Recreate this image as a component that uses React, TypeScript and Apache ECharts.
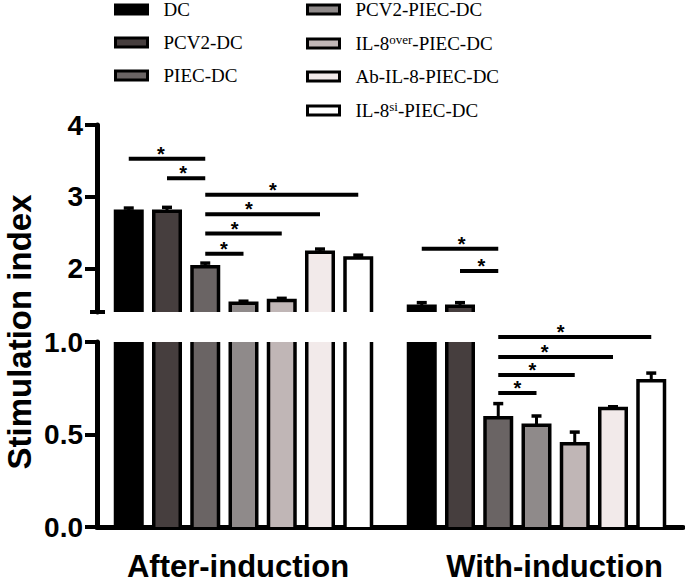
import React, { useEffect, useRef } from 'react';
import * as echarts from 'echarts';

// ---------- data ----------
const CATEGORIES = ['After-induction', 'With-induction'];
const SERIES_NAMES = ['DC', 'PCV2-DC', 'PIEC-DC', 'PCV2-PIEC-DC', 'IL-8over-PIEC-DC', 'Ab-IL-8-PIEC-DC', 'IL-8si-PIEC-DC'];
const SERIES_COLORS = ['#000000', '#463e3e', '#6a6464', '#8f8a8a', '#c0b6b6', '#f2eaea', '#ffffff'];

// mean stimulation index: [After-induction, With-induction]
const MEAN_DC = [2.8, 1.48];
const MEAN_PCV2_DC = [2.8, 1.48];
const MEAN_PIEC_DC = [2.03, 0.59];
const MEAN_PCV2_PIEC_DC = [1.52, 0.55];
const MEAN_IL8_OVER = [1.56, 0.45];
const MEAN_AB_IL8 = [2.23, 0.64];
const MEAN_IL8_SI = [2.15, 0.79];

// error (upper whisker)
const ERR_DC = [0.045, 0.05];
const ERR_PCV2_DC = [0.055, 0.05];
const ERR_PIEC_DC = [0.05, 0.077];
const ERR_PCV2_PIEC_DC = [0.03, 0.05];
const ERR_IL8_OVER = [0.03, 0.063];
const ERR_AB_IL8 = [0.045, 0.01];
const ERR_IL8_SI = [0.04, 0.042];

const MEANS = [MEAN_DC, MEAN_PCV2_DC, MEAN_PIEC_DC, MEAN_PCV2_PIEC_DC, MEAN_IL8_OVER, MEAN_AB_IL8, MEAN_IL8_SI];
const ERRS = [ERR_DC, ERR_PCV2_DC, ERR_PIEC_DC, ERR_PCV2_PIEC_DC, ERR_IL8_OVER, ERR_AB_IL8, ERR_IL8_SI];

// broken y axis segments
const UPPER_MIN = 1.4;
const UPPER_MAX = 4;
const UPPER_TICKS = [2, 3, 4];
const LOWER_MIN = 0;
const LOWER_MAX = 1;
const LOWER_INTERVAL = 0.5;

// significance brackets: [category, fromBar, toBar, y value, star position (bar units)]
const SIG_UPPER = [
  [0, 0, 2, 3.53, 0.84],
  [0, 1, 2, 3.26, 1.42],
  [0, 2, 6, 3.03, 3.77],
  [0, 2, 5, 2.76, 3.14],
  [0, 2, 4, 2.49, 2.77],
  [0, 2, 3, 2.21, 2.49],
  [1, 0, 2, 2.28, 1.04],
  [1, 1, 2, 1.97, 1.56],
];
const SIG_LOWER = [
  [1, 2, 6, 1.027, 3.63],
  [1, 2, 5, 0.919, 3.21],
  [1, 2, 4, 0.822, 2.89],
  [1, 2, 3, 0.724, 2.5],
];

// ---------- styles ----------
const SANS = '"Liberation Sans", Arial, sans-serif';
const SERIF = '"Liberation Serif", "Times New Roman", serif';
const PITCH_FRAC = 38.25 / 293;
const BAR_FRAC = 26.5 / 293;
const N = SERIES_NAMES.length;
const X_LABEL_PADDING = [[0, 11, 0, 0], [0, 0, 0, 36]];

const LEGEND_LABELS: Record<string, string> = {
  'IL-8over-PIEC-DC': '{n|IL-8}{s|over}{n|-PIEC-DC}',
  'IL-8si-PIEC-DC': '{n|IL-8}{s|si}{n|-PIEC-DC}',
};

function barX(api: any, cat: number, k: number) {
  const band = api.size([1, 0])[0];
  return api.coord([cat, 0])[0] + (k - (N - 1) / 2) * band * PITCH_FRAC;
}

function barRenderer(k: number, color: string) {
  return (params: any, api: any) => {
    const cat = api.value(0);
    const mean = api.value(1);
    const err = api.value(2);
    const cs = params.coordSys;
    const band = api.size([1, 0])[0];
    const w = band * BAR_FRAC;
    const cx = barX(api, cat, k);
    const yTop = api.coord([cat, mean])[1];
    const yBase = api.coord([cat, 0])[1];
    const top = cs.y;
    const bottom = cs.y + cs.height;
    const y0 = Math.max(yTop, top);
    const y1 = Math.min(yBase, bottom);
    const children: any[] = [];
    if (y0 < y1) {
      const x0 = cx - w / 2;
      const x1 = cx + w / 2;
      children.push({ type: 'rect', shape: { x: x0, y: y0, width: w, height: y1 - y0 }, style: { fill: color } });
      const stroke = { stroke: '#000', lineWidth: 3.5, fill: null };
      if (yTop >= top) {
        children.push({ type: 'polyline', shape: { points: [[x0, y1], [x0, yTop], [x1, yTop], [x1, y1]] }, style: stroke });
        const yErr = api.coord([cat, mean + err])[1];
        children.push({ type: 'line', shape: { x1: cx, y1: yTop, x2: cx, y2: yErr }, style: { stroke: '#000', lineWidth: 3 } });
        children.push({ type: 'line', shape: { x1: cx - 5, y1: yErr, x2: cx + 5, y2: yErr }, style: { stroke: '#000', lineWidth: 3.5 } });
      } else {
        children.push({ type: 'line', shape: { x1: x0, y1: y0, x2: x0, y2: y1 }, style: stroke });
        children.push({ type: 'line', shape: { x1: x1, y1: y0, x2: x1, y2: y1 }, style: stroke });
      }
    }
    return { type: 'group', children };
  };
}

function sigRenderer(params: any, api: any) {
  const cat = api.value(0);
  const from = api.value(1);
  const to = api.value(2);
  const yv = api.value(3);
  const starPos = api.value(4);
  const y = api.coord([cat, yv])[1];
  const xa = barX(api, cat, from);
  const xb = barX(api, cat, to);
  const xs = barX(api, cat, 0) + (barX(api, cat, 1) - barX(api, cat, 0)) * starPos;
  return {
    type: 'group',
    children: [
      { type: 'line', shape: { x1: xa, y1: y, x2: xb, y2: y }, style: { stroke: '#000', lineWidth: 4 } },
      {
        type: 'text',
        x: xs,
        y: y - 5,
        style: {
          text: '*',
          font: `bold 20px ${SANS}`,
          fill: '#000',
          align: 'center',
          verticalAlign: 'middle',
          textAlign: 'center',
          textVerticalAlign: 'middle',
        },
      },
    ],
  };
}

function capRenderer(params: any, api: any) {
  const cs = params.coordSys;
  const y = api.coord([0, api.value(1)])[1];
  return { type: 'line', shape: { x1: cs.x - 7, y1: y, x2: cs.x + 8, y2: y }, style: { stroke: '#000', lineWidth: 4 } };
}

function buildOption() {
  const gridLeft = 97;
  const gridWidth = 586;
  const axisLineStyle = { color: '#000', width: 5 };
  const tickStyle = { color: '#000', width: 4 };
  const yLabel = { color: '#000', fontFamily: SANS, fontWeight: 'bold', fontSize: 28, margin: 14 };

  const series: any[] = [];
  [0, 1].forEach((g) => {
    SERIES_NAMES.forEach((name, k) => {
      series.push({
        type: 'custom',
        name,
        xAxisIndex: g,
        yAxisIndex: g,
        itemStyle: { color: SERIES_COLORS[k], borderColor: '#000' },
        encode: { x: 0, y: 1 },
        data: CATEGORIES.map((_, c) => [c, MEANS[k][c], ERRS[k][c]]),
        renderItem: barRenderer(k, SERIES_COLORS[k]),
        silent: true,
        z: 2,
      });
    });
  });
  series.push({
    type: 'custom',
    xAxisIndex: 0,
    yAxisIndex: 0,
    encode: { x: 0, y: 3 },
    data: SIG_UPPER,
    renderItem: sigRenderer,
    silent: true,
    z: 3,
  });
  series.push({
    type: 'custom',
    xAxisIndex: 1,
    yAxisIndex: 1,
    encode: { x: 0, y: 3 },
    data: SIG_LOWER,
    renderItem: sigRenderer,
    silent: true,
    z: 3,
  });
  series.push({
    type: 'custom',
    xAxisIndex: 0,
    yAxisIndex: 0,
    encode: { x: 0, y: 1 },
    data: [[0, UPPER_MIN]],
    renderItem: capRenderer,
    silent: true,
    z: 4,
  });

  const legendCommon = {
    orient: 'vertical',
    padding: 0,
    itemWidth: 32,
    itemHeight: 9,
    itemGap: 14,
    icon: 'rect',
    selectedMode: false,
    itemStyle: { borderColor: '#000', borderWidth: 3 },
    formatter: (name: string) => LEGEND_LABELS[name] || `{n|${name}}`,
    textStyle: {
      color: '#000',
      fontFamily: SERIF,
      fontSize: 19,
      padding: [0, 0, 0, 11],
      rich: {
        n: { fontFamily: SERIF, fontSize: 19, lineHeight: 21, color: '#000' },
        s: { fontFamily: SERIF, fontSize: 13, lineHeight: 10, verticalAlign: 'top', color: '#000' },
      },
    },
  };

  return {
    animation: false,
    backgroundColor: '#ffffff',
    legend: [
      { ...legendCommon, data: SERIES_NAMES.slice(0, 3), left: 114, top: 0 },
      { ...legendCommon, data: SERIES_NAMES.slice(3), left: 306, top: 0 },
    ],
    grid: [
      { left: gridLeft, width: gridWidth, top: 125, height: 187 },
      { left: gridLeft, width: gridWidth, top: 342, height: 185 },
    ],
    xAxis: [
      { type: 'category', gridIndex: 0, data: CATEGORIES, show: false },
      {
        type: 'category',
        gridIndex: 1,
        data: CATEGORIES.map((c, i) => ({ value: c, textStyle: { padding: X_LABEL_PADDING[i] } })),
        axisLine: { lineStyle: axisLineStyle },
        axisTick: { alignWithLabel: true, length: 10, lineStyle: tickStyle },
        axisLabel: {
          interval: 0,
          color: '#000',
          fontFamily: SANS,
          fontWeight: 'bold',
          fontSize: 31,
          lineHeight: 24,
          margin: 27,
        },
        splitLine: { show: false },
      },
    ],
    yAxis: [
      {
        type: 'value',
        gridIndex: 0,
        min: UPPER_MIN,
        max: UPPER_MAX,
        axisLine: { show: true, lineStyle: axisLineStyle },
        axisTick: { show: true, length: 12, lineStyle: tickStyle, customValues: UPPER_TICKS },
        axisLabel: { ...yLabel, customValues: UPPER_TICKS },
        splitLine: { show: false },
      },
      {
        type: 'value',
        gridIndex: 1,
        min: LOWER_MIN,
        max: LOWER_MAX,
        interval: LOWER_INTERVAL,
        axisLine: { show: true, lineStyle: axisLineStyle },
        axisTick: { show: true, length: 12, lineStyle: tickStyle },
        axisLabel: { ...yLabel, formatter: (v: number) => v.toFixed(1) },
        splitLine: { show: false },
      },
    ],
    graphic: [
      {
        type: 'text',
        x: 19,
        y: 332,
        rotation: Math.PI / 2,
        style: {
          text: 'Stimulation index',
          font: `bold 33px ${SANS}`,
          fill: '#000',
          align: 'center',
          verticalAlign: 'middle',
          textAlign: 'center',
          textVerticalAlign: 'middle',
        },
      },
    ],
    series,
  };
}

export default function App() {
  const ref = useRef<HTMLDivElement>(null);
  useEffect(() => {
    if (!ref.current) return;
    const chart = echarts.init(ref.current, undefined, { renderer: 'svg' });
    chart.setOption(buildOption() as any);
    return () => chart.dispose();
  }, []);
  return <div ref={ref} style={{ position: 'absolute', left: 0, top: 0, width: 685, height: 583 }} />;
}
